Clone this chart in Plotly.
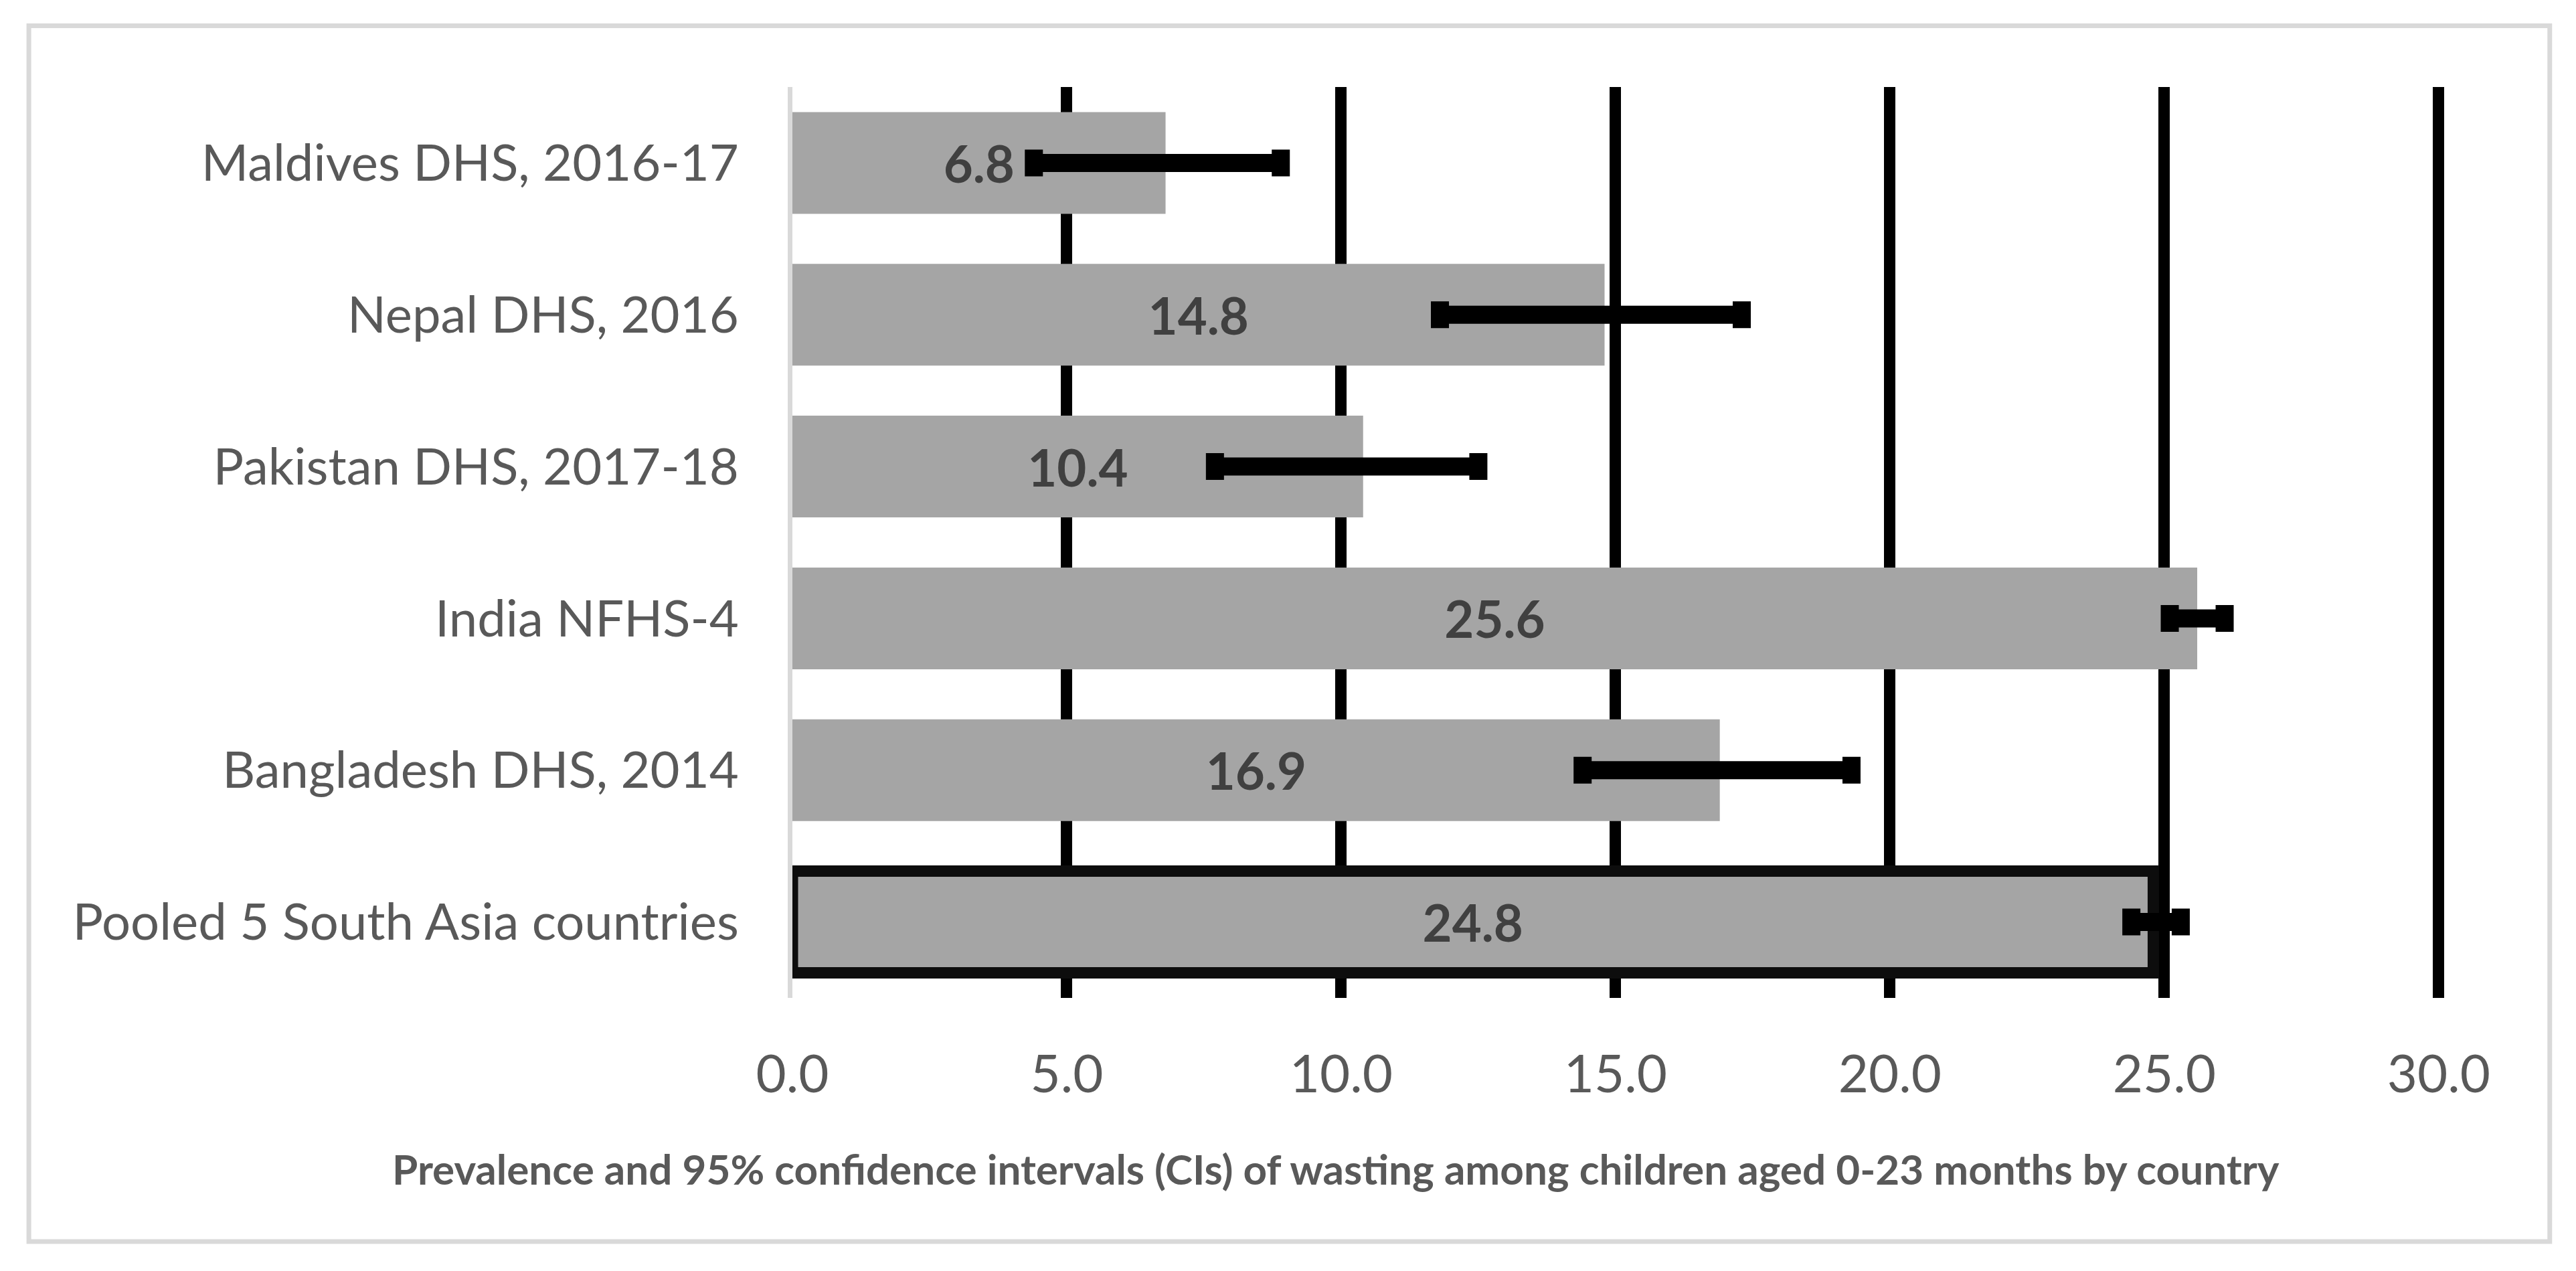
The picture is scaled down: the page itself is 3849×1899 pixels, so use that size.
import plotly.graph_objects as go

# ---- data (top to bottom as displayed) ----
categories = [
    "Maldives DHS, 2016-17",
    "Nepal DHS, 2016",
    "Pakistan DHS, 2017-18",
    "India NFHS-4",
    "Bangladesh DHS, 2014",
    "Pooled 5 South Asia countries",
]
prevalence = [6.8, 14.8, 10.4, 25.6, 16.9, 24.8]
ci_lower = [4.4, 11.8, 7.7, 25.1, 14.4, 24.4]
ci_upper = [8.9, 17.3, 12.5, 26.1, 19.3, 25.3]
x_tick_values = [0, 5, 10, 15, 20, 25, 30]
x_tick_labels = ["0.0", "5.0", "10.0", "15.0", "20.0", "25.0", "30.0"]
axis_title = ("Prevalence and 95% confidence intervals (CIs) of wasting among "
              "children aged 0-23 months by country")

err_plus = [u - v for u, v in zip(ci_upper, prevalence)]
err_minus = [v - l for v, l in zip(prevalence, ci_lower)]
border_widths = [0, 0, 0, 0, 0, 17]

FONT = "Lato"
GREY_TEXT = "#595959"

fig = go.Figure()
fig.add_trace(go.Bar(
    y=categories,
    x=prevalence,
    orientation="h",
    marker=dict(color="#a5a5a5", line=dict(color="#0d0d0d", width=border_widths)),
    text=[f"{v:.1f}" for v in prevalence],
    textposition="inside",
    insidetextanchor="middle",
    textfont=dict(family=FONT, size=76, color="#404040", weight="bold"),
    error_x=dict(type="data", symmetric=False, array=err_plus, arrayminus=err_minus,
                 color="#000000", thickness=27, width=20),
    showlegend=False,
    hoverinfo="skip",
))

# page body has an 8px margin; shift everything to compensate
OFF = 8
W, H = 3849, 1899
x_axis0, x_axis30 = 1184, 3644      # target screen pixel positions
y_top, y_bot = 130, 1491
unit = (x_axis30 - x_axis0) / 30
xmax = 30.1
plot_w = unit * xmax
plot_h = y_bot - y_top
L = x_axis0 - OFF
T = y_top - OFF
FW, FH = W - OFF, H - OFF
R = FW - L - plot_w
B = FH - T - plot_h

def px_x(p):
    return (p - x_axis0) / plot_w

def px_y(p):
    return (y_bot - p) / plot_h

fig.update_layout(
    width=FW, height=FH,
    margin=dict(l=L, r=R, t=T, b=B, pad=0),
    paper_bgcolor="white", plot_bgcolor="white",
    bargap=0.33,
    font=dict(family=FONT, color=GREY_TEXT),
    xaxis=dict(
        range=[0, xmax], tickvals=x_tick_values, ticktext=x_tick_labels,
        showgrid=True, gridcolor="#000000", gridwidth=17,
        zeroline=False, showline=False, ticks="",
        tickfont=dict(family=FONT, size=78, color=GREY_TEXT),
        ticklabelstandoff=62,
    ),
    yaxis=dict(
        autorange="reversed", showgrid=False, zeroline=False,
        showline=True, linecolor="#d9d9d9", linewidth=7, ticks="",
        tickfont=dict(family=FONT, size=76, color=GREY_TEXT),
        ticklabelstandoff=58,
    ),
    shapes=[dict(
        type="rect", xref="paper", yref="paper",
        x0=px_x(43), x1=px_x(3810),
        y0=px_y(1855), y1=px_y(38.5),
        line=dict(color="#d9d9d9", width=7), fillcolor="rgba(0,0,0,0)", layer="below",
    )],
    annotations=[dict(
        text=axis_title, xref="paper", yref="paper",
        x=px_x(1996), y=px_y(1746),
        xanchor="center", yanchor="middle", showarrow=False,
        font=dict(family=FONT, size=62, color=GREY_TEXT, weight="bold"),
    )],
)

fig.write_html("out.html")
